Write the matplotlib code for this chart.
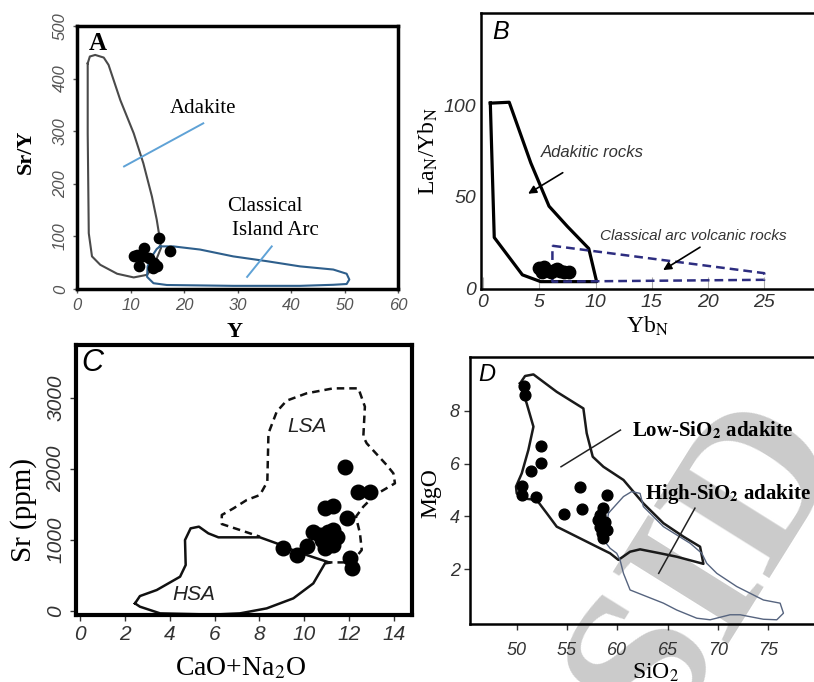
import numpy as np
import matplotlib
matplotlib.use("Agg")
import matplotlib.pyplot as plt

plt.rcParams['font.family'] = ['Liberation Sans', 'DejaVu Sans']
plt.rcParams['mathtext.fontset'] = 'stix'

SERIF = 'Liberation Serif'
SANS = 'Liberation Sans'

# ---- panel A: Sr/Y vs Y
a_adakite_x = [2.0, 2.4, 3.4, 5.0, 5.9, 8.1, 10.6, 12.4, 14.0, 14.9, 15.5, 15.7,
               14.3, 13.1, 10.6, 7.5, 4.35, 2.8, 2.2, 2.0, 2.0]
a_adakite_y = [429, 442, 445, 440, 426, 359, 296, 239, 176, 132, 94, 78,
               43, 27, 22, 29, 46, 62, 106, 296, 429]
a_arc_x = [15.5, 18.0, 23.0, 29.2, 35.4, 41.7, 47.9, 50.4, 50.9, 50.4, 47.9, 41.7,
           29.2, 16.8, 14.3, 13.1, 13.2, 14.0, 14.9, 15.5]
a_arc_y = [81, 81, 75, 62, 53, 43, 37, 29, 18, 9.5, 8, 6,
           6, 7.6, 11, 23, 43, 62, 76, 81]
a_samples_x = [15.4, 17.3, 10.6, 11.5, 12.6, 12.3, 13.4, 14.4, 14.9, 14.2, 11.2]
a_samples_y = [97, 72, 63, 43, 78, 63, 59, 49, 43, 40, 65]

# ---- panel B: LaN/YbN vs YbN
b_adakitic_x = [0.65, 2.33, 4.25, 5.87, 7.5, 9.4, 10.1, 5.13, 3.5, 1.0, 0.65]
b_adakitic_y = [101, 101.5, 68.5, 45, 34, 22, 4.0, 4.0, 7.7, 28, 101]
b_arc_x = [6.17, 25.0, 25.0, 6.17, 6.17]
b_arc_y = [23.5, 8.6, 5.0, 4.0, 23.5]
b_samples_x = [5.0, 5.2, 5.6, 6.0, 6.4, 6.8, 7.2, 7.6, 5.4, 6.6]
b_samples_y = [11.5, 9.0, 10.5, 9.5, 10.5, 10.0, 9.5, 9.0, 12.0, 11.0]

# ---- panel C: Sr vs CaO+Na2O
c_hsa_x = [2.45, 2.67, 3.42, 4.46, 4.71, 4.68, 4.93, 5.30, 5.72, 6.17, 8.02, 8.77,
           9.66, 11.14, 10.92, 10.4, 9.51, 8.32, 7.13, 5.94, 3.57, 2.67, 2.45]
c_hsa_y = [112, 215, 300, 487, 651, 1002, 1166, 1190, 1096, 1040, 1040, 955,
           838, 684, 674, 393, 183, 42, -28, -45, -28, 66, 112]
c_lsa_x = [10.92, 12.11, 12.56, 12.48, 12.30, 12.63, 13.15, 14.04, 13.97, 13.67,
           12.78, 12.63, 12.70, 12.41, 11.29, 10.10, 9.21, 8.77, 8.40, 8.35, 8.02,
           7.43, 6.84, 6.32, 6.32, 7.13, 8.02]
c_lsa_y = [688, 688, 862, 1096, 1330, 1471, 1635, 1799, 1939, 2056,
           2361, 2454, 2876, 3133, 3133, 3063, 2960, 2806, 2501, 1822, 1635,
           1564, 1447, 1354, 1227, 1143, 1049]
c_samples_x = [11.81, 12.41, 12.93, 10.92, 11.29, 11.89, 10.40, 10.70, 11.07, 11.29,
               11.44, 10.77, 11.07, 10.92, 11.29, 10.10, 9.06, 9.66, 12.04, 12.11]
c_samples_y = [2033, 1672, 1672, 1447, 1485, 1307, 1119, 1073, 1119, 1143,
               1049, 1002, 1026, 885, 932, 918, 885, 792, 745, 604]

# ---- panel D: MgO vs SiO2
d_low_x = [50.33, 50.83, 51.66, 53.97, 56.62, 56.95, 57.55, 58.61, 60.60, 62.58,
           64.57, 66.56, 68.21, 68.54, 65.89, 64.24, 62.25, 61.26, 60.10, 59.27,
           57.95, 55.96, 53.97, 52.98, 51.99, 50.66, 50.0, 49.93, 50.50, 51.16,
           51.66, 50.99, 50.33]
d_low_y = [9.04, 9.32, 9.38, 8.72, 8.09, 7.15, 6.26, 5.88, 5.38, 4.49,
           3.74, 3.23, 2.85, 2.20, 2.47, 2.60, 2.75, 2.66, 2.35, 2.60,
           2.85, 3.23, 3.61, 4.12, 4.62, 4.68, 4.87, 5.13, 5.63, 6.52,
           7.40, 8.28, 9.04]
d_high_x = [59.11, 60.60, 61.42, 62.25, 62.58, 64.57, 67.22, 68.38, 68.87, 69.87,
            71.85, 74.50, 76.16, 76.49, 75.83, 74.50, 72.19, 71.19, 69.21, 67.88,
            65.89, 64.57, 62.91, 61.26, 60.60, 60.26, 59.93, 59.27, 58.61, 58.94,
            59.11]
d_high_y = [4.12, 4.75, 4.94, 4.87, 4.37, 3.61, 2.98, 2.60, 2.22, 1.84,
            1.34, 0.83, 0.71, 0.33, 0.08, 0.10, 0.27, 0.27, 0.08, 0.14,
            0.45, 0.71, 0.96, 1.21, 1.84, 2.35, 2.60, 2.79, 3.11, 3.61,
            4.12]
d_samples_x = [50.73, 50.83, 52.42, 52.42, 51.39, 50.50, 50.56, 51.92, 56.29, 59.01,
               56.49, 54.74, 58.54, 58.28, 58.11, 58.77, 58.28, 59.01, 58.44, 58.54]
d_samples_y = [8.94, 8.60, 6.67, 6.04, 5.73, 5.16, 4.81, 4.75, 5.13, 4.81,
               4.27, 4.09, 4.31, 4.05, 3.86, 3.80, 3.61, 3.48, 3.36, 3.17]

W, H = 814, 682


def px_axes(fig, left, top, right, bottom):
    # axes placed from pixel box of the reference
    return fig.add_axes([left / W, (H - bottom) / H, (right - left) / W, (bottom - top) / H])


def style_ticks(ax, size, color, rot_y=0):
    for lab in ax.get_xticklabels() + ax.get_yticklabels():
        lab.set_fontstyle('italic')
        lab.set_fontsize(size)
        lab.set_color(color)
        lab.set_family(SANS)
    if rot_y:
        for lab in ax.get_yticklabels():
            lab.set_rotation(rot_y)
            lab.set_va('center')


fig = plt.figure(figsize=(W / 100, H / 100), dpi=100)

# watermark behind everything
fig.text(0.99, 0.375, 'of SID', rotation=58, fontsize=150, color='#cbcbcb',
         family=SERIF, fontweight='bold', ha='right', va='center',
         rotation_mode='anchor', zorder=-5)

# ---------------- A
axA = px_axes(fig, 77, 26, 398, 289)
axA.set_facecolor('none')
axA.plot(a_adakite_x, a_adakite_y, color='#4a4a4a', lw=1.5)
axA.plot(a_arc_x, a_arc_y, color='#2e5f8c', lw=1.5)
axA.scatter(a_samples_x, a_samples_y, s=55, color='black', zorder=3)
axA.plot([8.8, 23.6], [233, 315], color='#5fa2d6', lw=1.4)
axA.plot([31.8, 36.4], [23, 81], color='#5fa2d6', lw=1.4)
axA.text(23.5, 344, 'Adakite', family=SERIF, fontsize=15, ha='center', va='center')
axA.text(28.0, 157, 'Classical', family=SERIF, fontsize=15, ha='left', va='center')
axA.text(29.0, 112, 'Island Arc', family=SERIF, fontsize=15, ha='left', va='center')
axA.text(0.065, 0.935, 'A', transform=axA.transAxes, family=SERIF, fontweight='bold',
         fontsize=18, ha='center', va='center')
axA.set_xlim(0, 60)
axA.set_ylim(0, 500)
axA.set_xticks(np.arange(0, 61, 10))
axA.set_yticks(np.arange(0, 501, 100))
axA.tick_params(length=3, width=1, colors='#555555')
for s in axA.spines.values():
    s.set_linewidth(2.5)
style_ticks(axA, 12, '#555555', rot_y=90)
axA.set_ylabel('Sr/Y', family=SERIF, fontweight='bold', fontsize=16)
axA.yaxis.set_label_coords(-0.128, 0.52)
axA.set_xlabel('Y', family=SERIF, fontweight='bold', fontsize=16)
axA.xaxis.set_label_coords(0.49, -0.125)

# ---------------- B
axB = px_axes(fig, 480.75, 13, 820.5, 289)
axB.set_facecolor('none')
axB.plot(b_adakitic_x, b_adakitic_y, color='black', lw=2.3)
axB.plot(b_arc_x, b_arc_y, color='#2d2d80', lw=1.8, ls=(0, (3.5, 2)))
axB.scatter(b_samples_x, b_samples_y, s=80, color='black', zorder=3)
axB.annotate('', xy=(3.8, 51), xytext=(7.3, 64),
             arrowprops=dict(arrowstyle='-|>', color='black', lw=1.2, mutation_scale=12))
axB.annotate('', xy=(15.8, 9.5), xytext=(19.5, 23.5),
             arrowprops=dict(arrowstyle='-|>', color='black', lw=1.2, mutation_scale=12))
axB.text(9.7, 74, 'Adakitic rocks', style='italic', fontsize=12, color='#333333',
         ha='center', va='center')
axB.text(18.7, 29, 'Classical arc volcanic rocks', style='italic', fontsize=11,
         color='#333333', ha='center', va='center')
axB.text(0.057, 0.93, 'B', transform=axB.transAxes, style='italic', fontsize=18,
         ha='center', va='center')
axB.set_xlim(-0.2, 30)
axB.set_ylim(0, 150)
axB.set_xticks(np.arange(0, 26, 5))
axB.set_yticks([0, 50, 100])
axB.tick_params(axis='x', direction='in', length=9, width=0.8, color='#aaaaaa')
axB.tick_params(axis='y', length=0)
for s in axB.spines.values():
    s.set_linewidth(1.8)
style_ticks(axB, 14, '#333333')
axB.set_ylabel('La$_\\mathrm{N}$/Yb$_\\mathrm{N}$', family=SERIF, fontsize=17)
axB.yaxis.set_label_coords(-0.12, 0.5)
axB.set_xlabel('Yb$_\\mathrm{N}$', family=SERIF, fontsize=17)
axB.xaxis.set_label_coords(0.49, -0.094)

# ---------------- C
axC = px_axes(fig, 76, 345, 412, 615)
axC.set_facecolor('white')
axC.plot(c_hsa_x, c_hsa_y, color='#111111', lw=1.8)
axC.plot(c_lsa_x, c_lsa_y, color='#111111', lw=1.8, ls=(0, (3, 2)))
axC.scatter(c_samples_x, c_samples_y, s=110, color='black', zorder=3)
axC.text(10.1, 2595, 'LSA', style='italic', fontsize=15, color='#222222',
         ha='center', va='center')
axC.text(5.05, 230, 'HSA', style='italic', fontsize=15, color='#222222',
         ha='center', va='center')
axC.text(0.05, 0.935, 'C', transform=axC.transAxes, style='italic', fontsize=22,
         ha='center', va='center')
axC.set_xlim(-0.18, 14.8)
axC.set_ylim(-51, 3742)
axC.set_xticks(np.arange(0, 15, 2))
axC.set_yticks(np.arange(0, 3001, 1000))
axC.tick_params(length=4, width=1, colors='#333333')
for s in axC.spines.values():
    s.set_linewidth(3)
style_ticks(axC, 15, '#333333', rot_y=90)
axC.set_ylabel('Sr (ppm)', family=SERIF, fontsize=21)
axC.yaxis.set_label_coords(-0.115, 0.39)
axC.set_xlabel('CaO+Na$_2$O', family=SERIF, fontsize=20)
axC.xaxis.set_label_coords(0.49, -0.15)

# ---------------- D
axD = px_axes(fig, 470.4, 357, 818.8, 624)
axD.set_facecolor('none')
axD.plot(d_low_x, d_low_y, color='#1a1a1a', lw=1.8)
axD.plot(d_high_x, d_high_y, color='#56647f', lw=1.0)
axD.scatter(d_samples_x, d_samples_y, s=60, color='black', zorder=3)
axD.plot([54.4, 60.3], [5.88, 7.27], color='#222222', lw=1.1)
axD.plot([64.1, 67.7], [1.84, 4.31], color='#222222', lw=1.1)
axD.text(61.4, 7.25, 'Low-SiO$_\\mathbf{2}$ adakite', family=SERIF, fontweight='bold',
         fontsize=15, ha='left', va='center')
axD.text(62.75, 4.85, 'High-SiO$_\\mathbf{2}$ adakite', family=SERIF, fontweight='bold',
         fontsize=15, ha='left', va='center')
axD.text(0.046, 0.935, 'D', transform=axD.transAxes, style='italic', fontsize=17,
         ha='center', va='center')
axD.set_xlim(45.4, 80)
axD.set_ylim(-0.08, 10.04)
axD.set_xticks(np.arange(50, 76, 5))
axD.set_yticks([2, 4, 6, 8])
axD.tick_params(length=4, width=1, colors='#333333')
axD.tick_params(axis='x', pad=9)
for s in axD.spines.values():
    s.set_linewidth(1.8)
style_ticks(axD, 13, '#333333')
axD.set_ylabel('MgO', family=SERIF, fontsize=17)
axD.yaxis.set_label_coords(-0.083, 0.49)
axD.set_xlabel('SiO$_2$', family=SERIF, fontsize=17)
axD.xaxis.set_label_coords(0.53, -0.142)

fig.savefig('out.png', dpi=100)
